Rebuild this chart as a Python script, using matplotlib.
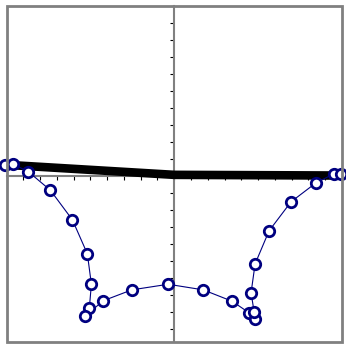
import matplotlib
matplotlib.use("Agg")
import matplotlib.pyplot as plt
from matplotlib.patches import Rectangle
import numpy as np

# Measured profile (open circles), traced left edge -> bottom -> right edge
profile_x = [-1.006, -0.964, -0.869, -0.738, -0.607, -0.518, -0.494, -0.506,
             -0.530, -0.423, -0.253, -0.036, 0.173, 0.345, 0.446, 0.482,
             0.476, 0.458, 0.482, 0.565, 0.696, 0.845, 0.952, 0.994]
profile_y = [0.065, 0.071, 0.024, -0.085, -0.259, -0.459, -0.638, -0.776,
             -0.824, -0.735, -0.671, -0.638, -0.671, -0.738, -0.806, -0.841,
             -0.800, -0.688, -0.518, -0.324, -0.153, -0.041, 0.012, 0.012]

# Reference surface (thick black line)
surface_x = [-1.0, 0.0, 1.0]
surface_y = [0.065, 0.006, 0.002]

W, H = 346, 345
fig = plt.figure(figsize=(W / 100, H / 100), dpi=100)
ax = fig.add_axes([6.5 / W, (H - 341.5) / H, (342 - 6.5) / W, (341.5 - 6) / H])

ax.set_xlim(-1.0, 1.0)
ax.set_ylim(-0.975, 1.0)

# axes cross at the origin
for side in ("top", "right"):
    ax.spines[side].set_visible(False)
for side in ("left", "bottom"):
    ax.spines[side].set_position(("data", 0))
    ax.spines[side].set_color("#808080")
    ax.spines[side].set_linewidth(1.5)

ax.set_xticks(np.round(np.arange(-1.0, 1.01, 0.1), 2))
ax.set_yticks(np.round(np.arange(-0.9, 1.01, 0.1), 2))
ax.tick_params(direction="out", length=3, width=0.8, colors="black",
               labelbottom=False, labelleft=False)

# outer border
ax.add_patch(Rectangle((0, 0), 1, 1, transform=ax.transAxes, fill=False,
                       edgecolor="#808080", linewidth=2, clip_on=False, zorder=5))

ax.plot(surface_x, surface_y, color="black", linewidth=6.2,
        solid_capstyle="butt", zorder=3)
ax.plot(profile_x, profile_y, color="#000080", linewidth=0.8,
        marker="o", markersize=7.5, markeredgewidth=2.0,
        markerfacecolor="white", markeredgecolor="#000080",
        clip_on=False, zorder=4)

fig.savefig("out.png", dpi=100)
